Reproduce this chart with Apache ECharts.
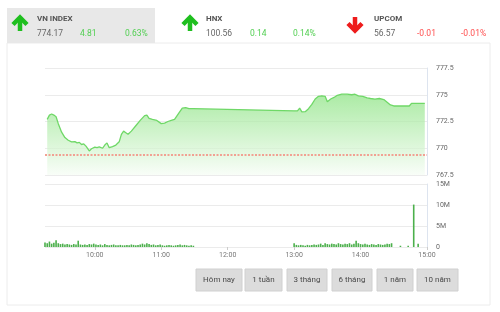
<!DOCTYPE html>
<html><head><meta charset="utf-8">
<script src="https://cdn.jsdelivr.net/npm/echarts@6/dist/echarts.min.js"></script>
<style>html,body{margin:0;padding:0;background:#fff}#c{width:500px;height:312px}</style>
</head><body><div id="c"></div>
<script>
// ---------- data ----------
const indexNames    = ['VN INDEX', 'HNX', 'UPCOM'];
const indexValues   = ['774.17', '100.56', '56.57'];
const indexChanges  = ['4.81', '0.14', '-0.01'];
const indexPercents = ['0.63%', '0.14%', '-0.01%'];
const indexUp       = [true, true, false];
const rangeButtons  = ['Hôm nay', '1 tuần', '3 tháng', '6 tháng', '1 năm', '10 năm'];

const timeLabels = ['10:00', '11:00', '12:00', '13:00', '14:00', '15:00'];
const axisStart = '09:15', axisEnd = '15:00';

const priceMin = 767.5, priceMax = 777.5, priceStep = 2.5;
const refPrice = 769.36; // previous close (774.17 - 4.81)

const priceTimes = ['09:17','09:19','09:21','09:23','09:25','09:27','09:30','09:33','09:36','09:39',
  '09:42','09:44','09:46','09:48','09:50','09:52','09:55','09:57','10:00','10:02',
  '10:04','10:07','10:09','10:11','10:13','10:16','10:19','10:22','10:24','10:26',
  '10:28','10:30','10:33','10:37','10:41','10:45','10:47','10:49','10:52','10:56',
  '11:00','11:03','11:06','11:09','11:12','11:16','11:19','11:22','11:25','11:29',
  '13:00','13:03','13:05','13:07','13:10','13:13','13:16','13:19','13:22','13:25',
  '13:28','13:30','13:33','13:36','13:39','13:43','13:48','13:52','13:55','13:58',
  '14:02','14:06','14:09','14:13','14:17','14:21','14:24','14:27','14:30','14:36',
  '14:44','14:46','14:58'];
const priceValues = [772.7,773.1,773.2,773.1,772.95,772.3,771.5,771.0,770.75,770.6,
  770.62,770.5,770.55,770.35,770.4,770.2,769.75,769.95,770.1,770.05,
  770.12,770.0,770.3,770.5,770.05,770.15,770.3,770.6,771.3,771.6,
  771.45,771.3,771.6,772.1,772.6,773.05,773.1,772.8,772.7,772.6,
  772.3,772.35,772.5,772.6,772.7,773.3,773.75,773.8,773.7,773.7,
  773.5,773.5,773.75,773.4,773.42,773.7,774.1,774.6,774.85,774.9,
  774.85,774.35,774.6,774.75,774.95,775.05,775.05,775.0,775.05,774.9,
  774.85,774.7,774.65,774.6,774.65,774.55,774.3,774.05,773.95,773.95,
  773.95,774.2,774.2];

const volMax = 15, volStep = 5; // millions
// morning session, one bar every 2 minutes from 09:15
const volMorningStart = '09:15';
const volMorning = [1.1,0.9,1.3,0.8,1.0,1.6,0.9,0.7,0.8,0.6,0.7,
  0.6,0.5,0.7,0.6,1.5,0.6,0.5,0.6,0.5,0.7,0.6,
  0.8,0.6,0.5,0.6,0.4,0.7,0.5,0.4,0.5,0.6,0.4,
  0.4,0.5,0.4,0.4,0.5,0.4,0.6,0.5,0.4,0.5,0.6,
  0.8,0.6,0.9,0.7,0.5,0.6,0.4,0.5,0.6,0.4,0.3,
  0.4,0.5,0.4,0.3,0.4,0.5,0.6,0.4,0.5,0.4,0.3,0.4,0.3];
// afternoon session, one bar every 2 minutes from 13:00
const volAfternoonStart = '13:00';
const volAfternoon = [0.9,0.5,0.4,0.5,0.4,0.3,0.5,0.4,0.5,0.6,0.5,
  0.6,0.8,0.5,0.9,0.7,0.6,0.8,0.7,0.6,0.9,0.7,
  0.6,0.8,0.7,0.9,0.6,0.8,1.5,0.9,0.7,0.6,0.8,
  0.6,0.5,0.7,0.6,0.5,0.7,0.6,0.5,0.6,0.8,0.7,0.9];
const volCloseTimes = ['14:36', '14:43', '14:48', '14:52'];
const volClose = [0.3, 0.3, 10.1, 0.8];

// ---------- helpers ----------
const toMin = s => { const [h, m] = s.split(':').map(Number); return h * 60 + m; };
const fmtMin = v => { const h = Math.floor(v / 60), m = Math.round(v % 60); return (h < 10 ? '0' : '') + h + ':' + (m < 10 ? '0' : '') + m; };

const priceData = priceTimes.map((t, i) => [toMin(t), priceValues[i]]);
const volData = [];
volMorning.forEach((v, i) => volData.push([toMin(volMorningStart) + i * 2, v]));
volAfternoon.forEach((v, i) => volData.push([toMin(volAfternoonStart) + i * 2, v]));
volCloseTimes.forEach((t, i) => volData.push([toMin(t), volClose[i]]));
const tickMins = timeLabels.map(toMin);

// ---------- layout (positions/styles) ----------
const tabX = [[37, 80, 125, 20], [206, 250, 293, 190], [374, 417, 461, 355]];
const btnBoxes = [[196, 46], [245, 37], [287, 40], [332, 40], [377, 36], [417, 41]];
const GREEN = '#52cf52', RED = '#ff4d4d';
const FONT = 'Roboto, "Noto Sans", sans-serif';

const graphic = [];
graphic.push({ type: 'rect', z: 0, shape: { x: 7, y: 43, width: 483, height: 262 }, style: { fill: null, stroke: '#ececec', lineWidth: 1 } });
graphic.push({ type: 'rect', z: 0, shape: { x: 7, y: 8, width: 148, height: 35 }, style: { fill: '#e8e8e8' } });
indexNames.forEach((n, i) => {
  const [xName, xChg, xPct, xArrow] = tabX[i];
  const col = indexUp[i] ? GREEN : RED;
  graphic.push({ type: 'text', z: 2, x: xName, y: 19, style: { text: n, fill: '#555', font: 'bold 8px ' + FONT, verticalAlign: 'middle' } });
  graphic.push({ type: 'text', z: 2, x: xName, y: 34, style: { text: indexValues[i], fill: '#666', font: '8.5px ' + FONT, verticalAlign: 'middle' } });
  graphic.push({ type: 'text', z: 2, x: xChg, y: 34, style: { text: indexChanges[i], fill: col, font: '8.5px ' + FONT, verticalAlign: 'middle' } });
  graphic.push({ type: 'text', z: 2, x: xPct, y: 34, style: { text: indexPercents[i], fill: col, font: '8.5px ' + FONT, verticalAlign: 'middle' } });
  const ac = indexUp[i] ? '#1fbf1f' : '#ee1c1c';
  if (indexUp[i]) {
    graphic.push({ type: 'polyline', z: 2, shape: { points: [[xArrow - 7, 24.5], [xArrow, 17.5], [xArrow + 7, 24.5]] }, style: { stroke: ac, lineWidth: 4.5, fill: null } });
    graphic.push({ type: 'polyline', z: 2, shape: { points: [[xArrow, 18], [xArrow, 31]] }, style: { stroke: ac, lineWidth: 4.5, fill: null } });
  } else {
    graphic.push({ type: 'polyline', z: 2, shape: { points: [[xArrow - 7, 23.5], [xArrow, 30.5], [xArrow + 7, 23.5]] }, style: { stroke: ac, lineWidth: 4.5, fill: null } });
    graphic.push({ type: 'polyline', z: 2, shape: { points: [[xArrow, 17], [xArrow, 30]] }, style: { stroke: ac, lineWidth: 4.5, fill: null } });
  }
});
rangeButtons.forEach((b, i) => {
  const [bx, bw] = btnBoxes[i];
  graphic.push({ type: 'rect', z: 1, shape: { x: bx, y: 269, width: bw, height: 22 }, style: { fill: '#dcdcdc', stroke: '#d0d0d0', lineWidth: 1 } });
  graphic.push({ type: 'text', z: 2, x: bx + bw / 2, y: 280, style: { text: b, fill: '#4a4a4a', font: '8px ' + FONT, align: 'center', verticalAlign: 'middle' } });
});

const chart = echarts.init(document.getElementById('c'), null, { renderer: 'canvas' });
chart.setOption({
  animation: false,
  backgroundColor: '#fff',
  textStyle: { fontFamily: FONT },
  graphic: graphic,
  grid: [
    { left: 45, right: 73, top: 68, height: 107 },
    { left: 45, right: 73, top: 184, height: 63 }
  ],
  xAxis: [
    { gridIndex: 0, type: 'value', min: toMin(axisStart), max: toMin(axisEnd),
      axisLine: { show: false }, axisTick: { show: false }, axisLabel: { show: false }, splitLine: { show: false } },
    { gridIndex: 1, type: 'value', min: toMin(axisStart), max: toMin(axisEnd),
      axisLine: { show: false },
      axisTick: { show: true, customValues: tickMins, length: 3, lineStyle: { color: '#ccc' } },
      axisLabel: { customValues: tickMins, formatter: v => fmtMin(v), fontSize: 7, color: '#777', margin: 5 },
      splitLine: { show: false } }
  ],
  yAxis: [
    { gridIndex: 0, type: 'value', position: 'right', min: priceMin, max: priceMax, interval: priceStep,
      axisLine: { show: true, lineStyle: { color: '#dde4ef' } }, axisTick: { show: false },
      axisLabel: { fontSize: 7, color: '#666', margin: 9 },
      splitLine: { lineStyle: { color: '#ebebeb' } } },
    { gridIndex: 1, type: 'value', position: 'right', min: 0, max: volMax, interval: volStep,
      axisLine: { show: true, lineStyle: { color: '#dde4ef' } }, axisTick: { show: false },
      axisLabel: { fontSize: 7, color: '#666', margin: 9, formatter: v => v === 0 ? '0' : v + 'M' },
      splitLine: { lineStyle: { color: '#ebebeb' } } }
  ],
  series: [
    { type: 'line', xAxisIndex: 0, yAxisIndex: 0, data: priceData, showSymbol: false,
      lineStyle: { color: '#6fd867', width: 1.3 },
      areaStyle: { origin: 'start', color: new echarts.graphic.LinearGradient(0, 0, 0, 1, [
        { offset: 0, color: '#88e27e' }, { offset: 1, color: '#f6fdf5' }]) },
      markLine: { silent: true, symbol: 'none', label: { show: false },
        lineStyle: { color: '#f1a193', type: [2, 1.5], width: 2 },
        data: [{ yAxis: refPrice }] } },
    { type: 'bar', xAxisIndex: 1, yAxisIndex: 1, data: volData, barWidth: 1.6,
      itemStyle: { color: '#4cb04c' } }
  ]
});
</script></body></html>
